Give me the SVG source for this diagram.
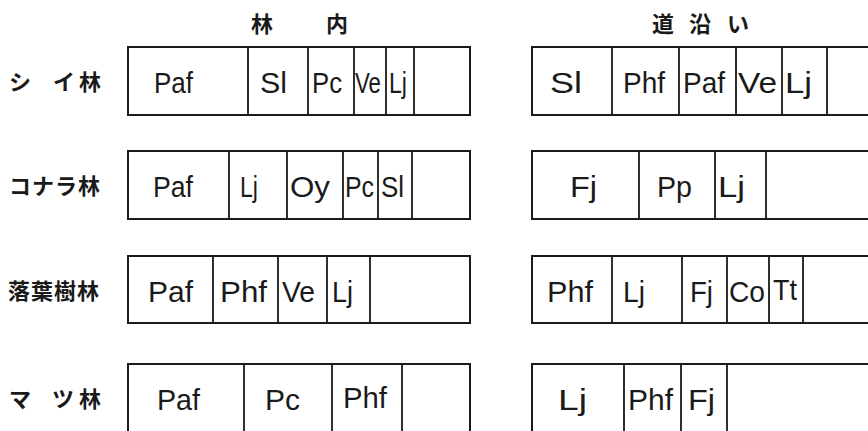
<svg xmlns="http://www.w3.org/2000/svg" width="868" height="431" viewBox="0 0 868 431">
<style>
.box{fill:none;stroke:#1a1a1a;stroke-width:2}
.div{stroke:#1a1a1a;stroke-width:1.8}
.lbl{font-family:"Liberation Sans",Arial,sans-serif;font-size:30px;fill:#1a1a1a}
.jp{font-family:"Noto Sans CJK JP","Noto Sans",sans-serif;font-size:22px;font-weight:bold;fill:#1a1a1a}
</style>
<rect width="868" height="431" fill="#ffffff"/>
<g id="headers">
<text class="jp" x="251 326" y="32">林内</text>
<text class="jp" x="652 689 727" y="32">道沿い</text>
</g>
<g id="row-labels">
<text id="label-shii" class="jp" x="9 53 79" y="90">シイ林</text>
<text id="label-konara" class="jp" x="9 32 55 78" y="194">コナラ林</text>
<text id="label-rakuyo" class="jp" x="8 31 54 77" y="299">落葉樹林</text>
<text id="label-matsu" class="jp" x="9 52 79" y="407">マツ林</text>
</g>
<g id="connectors"/>
<g id="shii-rinnai">
<rect class="box" x="128" y="47" width="342" height="68"/>
<path class="div" d="M248 47V115M308 47V115M354 47V115M386 47V115M414 47V115"/>
<text class="lbl" x="154" y="93" textLength="39" lengthAdjust="spacingAndGlyphs">Paf</text>
<text class="lbl" x="260" y="93" textLength="27" lengthAdjust="spacingAndGlyphs">Sl</text>
<text class="lbl" x="312" y="93" textLength="30" lengthAdjust="spacingAndGlyphs">Pc</text>
<text class="lbl" x="355" y="93" textLength="26" lengthAdjust="spacingAndGlyphs">Ve</text>
<text class="lbl" x="389" y="93" textLength="18" lengthAdjust="spacingAndGlyphs">Lj</text>
</g>
<g id="shii-michizoi">
<rect class="box" x="532" y="47" width="360" height="68"/>
<path class="div" d="M612 47V115M679 47V115M736 47V115M782 47V115M827 47V115"/>
<text class="lbl" x="550" y="93" textLength="32" lengthAdjust="spacingAndGlyphs">Sl</text>
<text class="lbl" x="623" y="93" textLength="42" lengthAdjust="spacingAndGlyphs">Phf</text>
<text class="lbl" x="683" y="93" textLength="42" lengthAdjust="spacingAndGlyphs">Paf</text>
<text class="lbl" x="738" y="93" textLength="39" lengthAdjust="spacingAndGlyphs">Ve</text>
<text class="lbl" x="785" y="93" textLength="27" lengthAdjust="spacingAndGlyphs">Lj</text>
</g>
<g id="konara-rinnai">
<rect class="box" x="128" y="151" width="342" height="68"/>
<path class="div" d="M229 151V219M287 151V219M343 151V219M378 151V219M412 151V219"/>
<text class="lbl" x="153" y="197" textLength="40" lengthAdjust="spacingAndGlyphs">Paf</text>
<text class="lbl" x="240" y="197" textLength="18" lengthAdjust="spacingAndGlyphs">Lj</text>
<text class="lbl" x="290" y="197" textLength="40" lengthAdjust="spacingAndGlyphs">Oy</text>
<text class="lbl" x="345" y="197" textLength="29" lengthAdjust="spacingAndGlyphs">Pc</text>
<text class="lbl" x="381" y="197" textLength="23" lengthAdjust="spacingAndGlyphs">Sl</text>
</g>
<g id="konara-michizoi">
<rect class="box" x="532" y="151" width="360" height="68"/>
<path class="div" d="M639 151V219M715 151V219M766 151V219"/>
<text class="lbl" x="570" y="197" textLength="27" lengthAdjust="spacingAndGlyphs">Fj</text>
<text class="lbl" x="657" y="197" textLength="35" lengthAdjust="spacingAndGlyphs">Pp</text>
<text class="lbl" x="718" y="197" textLength="27" lengthAdjust="spacingAndGlyphs">Lj</text>
</g>
<g id="rakuyo-rinnai">
<rect class="box" x="128" y="256" width="342" height="67"/>
<path class="div" d="M213 256V323M278 256V323M327 256V323M370 256V323"/>
<text class="lbl" x="148" y="302" textLength="45" lengthAdjust="spacingAndGlyphs">Paf</text>
<text class="lbl" x="220" y="302" textLength="47" lengthAdjust="spacingAndGlyphs">Phf</text>
<text class="lbl" x="282" y="302" textLength="33" lengthAdjust="spacingAndGlyphs">Ve</text>
<text class="lbl" x="332" y="302" textLength="21" lengthAdjust="spacingAndGlyphs">Lj</text>
</g>
<g id="rakuyo-michizoi">
<rect class="box" x="532" y="256" width="360" height="67"/>
<path class="div" d="M612 256V323M682 256V323M727 256V323M769 256V323M803 256V323"/>
<text class="lbl" x="547" y="302" textLength="46" lengthAdjust="spacingAndGlyphs">Phf</text>
<text class="lbl" x="623" y="302" textLength="22" lengthAdjust="spacingAndGlyphs">Lj</text>
<text class="lbl" x="690" y="302" textLength="23" lengthAdjust="spacingAndGlyphs">Fj</text>
<text class="lbl" x="729" y="302" textLength="36" lengthAdjust="spacingAndGlyphs">Co</text>
<text class="lbl" x="773" y="300" textLength="24" lengthAdjust="spacingAndGlyphs">Tt</text>
</g>
<g id="matsu-rinnai">
<rect class="box" x="128" y="364" width="342" height="80"/>
<path class="div" d="M244 364V444M332 364V444M402 364V444"/>
<text class="lbl" x="157" y="410" textLength="43" lengthAdjust="spacingAndGlyphs">Paf</text>
<text class="lbl" x="265" y="410" textLength="35" lengthAdjust="spacingAndGlyphs">Pc</text>
<text class="lbl" x="343" y="408" textLength="44" lengthAdjust="spacingAndGlyphs">Phf</text>
</g>
<g id="matsu-michizoi">
<rect class="box" x="532" y="364" width="360" height="80"/>
<path class="div" d="M624 364V444M681 364V444M727 364V444"/>
<text class="lbl" x="558" y="410" textLength="29" lengthAdjust="spacingAndGlyphs">Lj</text>
<text class="lbl" x="628" y="410" textLength="45" lengthAdjust="spacingAndGlyphs">Phf</text>
<text class="lbl" x="688" y="410" textLength="27" lengthAdjust="spacingAndGlyphs">Fj</text>
</g>
</svg>
